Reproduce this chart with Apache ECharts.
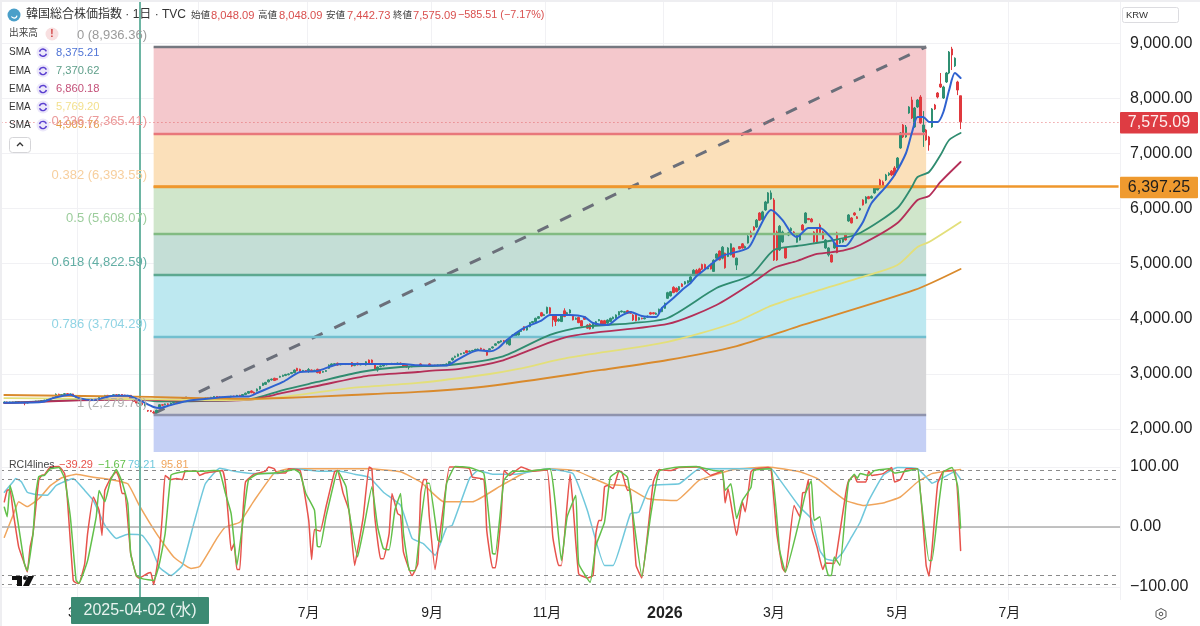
<!DOCTYPE html>
<html><head><meta charset="utf-8">
<style>html,body{margin:0;padding:0;background:#fff}#c{width:1200px;height:626px}</style>
<script src="https://cdn.jsdelivr.net/npm/echarts@6/dist/echarts.min.js"></script>
</head><body><div id="c"></div>
<script>
// ---------- values ----------
const slotCount = 390;
const monthTicks = [[27,'3月'],[69,'5月'],[107,'7月'],[150,'9月'],[190,'11月'],[231,'2026'],[269,'3月'],[312,'5月'],[351,'7月']];
const priceTicks = [2000,3000,4000,5000,6000,7000,8000,9000];
const rciTicks = [100,0,-100];
const rciLevels = [95,80,-80,-95];
const fibStartBar = 53, fibEndBar = 322, crossBar = 48, lastBar = 389;
const fibValues = [8936.36,7365.41,6393.55,5545,4795,3675,2258];
const fibFloor = 1582;
const lastClose = 7575.09, hLine = 6397.25, trendFrom = 2279.78, trendTo = 8936.36;

// open, close, low, high for bars 1..334
const candles = [
[2480,2490,2470,2500],[2490,2475,2465,2498],[2478,2488,2470,2495],[2488,2480,2472,2495],[2482,2495,2475,2502],[2495,2485,2478,2503],[2486,2478,2470,2492],[2478,2470,2430,2484],[2472,2485,2465,2490],[2485,2500,2480,2508],
[2500,2490,2482,2506],[2492,2505,2486,2512],[2505,2498,2490,2512],[2500,2515,2494,2520],[2515,2525,2508,2532],[2525,2540,2518,2548],[2540,2555,2532,2562],[2555,2575,2548,2582],[2575,2630,2565,2645],[2630,2610,2600,2640],
[2610,2625,2600,2635],[2625,2640,2615,2650],[2640,2630,2620,2648],[2630,2635,2618,2642],[2635,2605,2595,2640],[2605,2570,2560,2612],[2570,2525,2515,2575],[2525,2540,2515,2550],[2540,2530,2520,2548],[2530,2520,2510,2540],
[2520,2515,2505,2530],[2515,2535,2508,2545],[2535,2555,2528,2562],[2555,2575,2548,2582],[2575,2590,2568,2598],[2590,2610,2580,2618],[2610,2595,2588,2618],[2595,2605,2588,2612],[2605,2620,2596,2628],[2620,2610,2600,2630],
[2610,2625,2600,2632],[2625,2615,2605,2632],[2615,2600,2590,2622],[2600,2610,2590,2618],[2610,2560,2550,2615],[2550,2500,2490,2558],[2500,2470,2460,2510],[2460,2490,2450,2500],[2470,2440,2430,2480],[2425,2450,2410,2460],
[2335,2325,2310,2345],[2330,2320,2305,2340],[2300,2293,2280,2330],[2300,2340,2285,2350],[2400,2440,2390,2450],[2440,2432,2420,2450],[2440,2455,2430,2462],[2455,2445,2435,2465],[2450,2470,2440,2478],[2470,2482,2462,2490],
[2482,2476,2468,2490],[2478,2492,2470,2500],[2492,2505,2485,2512],[2505,2498,2490,2512],[2500,2515,2492,2522],[2515,2525,2508,2532],[2525,2518,2510,2532],[2520,2535,2512,2542],[2535,2528,2518,2542],[2530,2550,2522,2558],
[2550,2560,2540,2568],[2560,2555,2545,2568],[2558,2575,2550,2582],[2575,2590,2568,2598],[2590,2580,2570,2598],[2580,2565,2555,2590],[2565,2575,2555,2582],[2575,2560,2550,2585],[2560,2580,2552,2590],[2580,2595,2570,2602],
[2595,2590,2580,2605],[2590,2610,2582,2618],[2610,2600,2590,2620],[2600,2625,2592,2632],[2625,2650,2615,2660],[2650,2680,2640,2690],[2690,2660,2650,2700],[2665,2650,2640,2680],[2690,2725,2680,2735],[2725,2770,2715,2780],
[2790,2830,2780,2840],[2810,2845,2800,2855],[2855,2890,2845,2900],[2890,2905,2880,2915],[2920,2880,2870,2930],[2915,2895,2885,2925],[2940,2955,2930,2965],[2955,2975,2945,2985],[2970,2990,2960,3000],[2985,3000,2975,3010],
[3005,3025,2995,3035],[3022,3070,3012,3080],[3100,3058,3048,3110],[3083,3040,3030,3095],[3050,3062,3040,3072],[3060,3050,3040,3070],[3058,3080,3020,3105],[3070,3055,3045,3080],[3055,3065,3045,3075],[3083,3022,3012,3095],
[3071,3010,3000,3082],[3030,3045,3020,3055],[3045,3060,3035,3070],[3100,3160,3090,3170],[3145,3180,3135,3190],[3170,3185,3160,3195],[3192,3160,3150,3205],[3165,3180,3155,3190],[3180,3170,3160,3190],[3170,3185,3160,3195],
[3185,3170,3160,3195],[3204,3143,3130,3215],[3150,3170,3140,3180],[3195,3165,3155,3205],[3165,3180,3155,3190],[3180,3175,3165,3192],[3162,3220,3150,3230],[3250,3195,3185,3262],[3250,3205,3195,3262],[3180,3085,3075,3195],
[3070,3125,3040,3135],[3130,3145,3120,3155],[3145,3165,3135,3175],[3165,3180,3155,3190],[3185,3175,3165,3195],[3175,3190,3165,3200],[3190,3175,3165,3198],[3180,3195,3170,3205],[3195,3185,3175,3205],[3180,3145,3135,3192],
[3160,3125,3115,3170],[3120,3130,3080,3140],[3130,3140,3120,3150],[3140,3135,3125,3150],[3135,3145,3125,3155],[3180,3145,3135,3190],[3150,3140,3130,3160],[3140,3150,3130,3160],[3180,3145,3135,3190],[3150,3155,3140,3165],
[3155,3150,3140,3165],[3150,3160,3140,3170],[3160,3155,3145,3170],[3155,3170,3145,3180],[3170,3180,3160,3190],[3180,3222,3170,3232],[3252,3284,3242,3295],[3300,3320,3290,3330],[3320,3358,3310,3368],[3355,3370,3345,3380],
[3370,3385,3360,3395],[3420,3385,3375,3430],[3405,3415,3395,3425],[3415,3425,3405,3435],[3430,3445,3420,3455],[3440,3450,3430,3460],[3464,3445,3435,3475],[3445,3430,3420,3455],[3412,3340,3330,3425],[3440,3455,3430,3465],
[3470,3490,3460,3500],[3520,3545,3510,3555],[3560,3585,3550,3595],[3580,3600,3570,3610],[3600,3590,3575,3615],[3545,3615,3535,3625],[3525,3645,3515,3655],[3665,3705,3655,3715],[3675,3735,3665,3745],[3705,3765,3695,3775],
[3770,3790,3760,3800],[3855,3795,3785,3865],[3795,3855,3785,3865],[3855,3930,3845,3940],[3930,3950,3920,3960],[3945,4008,3935,4020],[4008,4038,3995,4050],[4110,4050,4040,4125],[4060,4075,4050,4090],[4100,4208,4090,4220],
[4200,4100,4085,4215],[4069,3978,3857,4085],[4069,3950,3870,4085],[3960,3990,3950,4010],[3950,4065,3940,4080],[4145,4040,4030,4190],[4090,4110,4080,4125],[4105,4160,4095,4175],[4050,3980,3970,4065],[3990,4010,3980,4025],
[4025,3930,3920,4040],[3965,3870,3860,3975],[4038,3990,3980,4050],[3885,3830,3820,3900],[3900,3815,3805,3915],[3830,3915,3820,3930],[3890,3945,3880,3960],[3965,3985,3955,3995],[3965,3905,3895,3980],[3965,3890,3880,3980],
[3920,3978,3910,3990],[3950,4008,3940,4020],[4000,4030,3990,4040],[4010,4069,4000,4080],[4070,4129,4060,4140],[4125,4140,4115,4150],[4115,4130,4105,4140],[4145,4100,4090,4160],[4129,4100,4090,4140],[4069,3978,3960,4085],
[4080,3965,3955,4095],[3980,4020,3970,4035],[4010,4000,3990,4020],[4000,4015,3990,4025],[4030,4045,4020,4060],[4110,4085,4075,4125],[4110,4090,4080,4120],[4080,4100,4070,4115],[4112,4172,4100,4185],[4130,4190,4120,4205],
[4190,4280,4180,4295],[4372,4474,4360,4490],[4415,4492,4405,4505],[4572,4475,4465,4590],[4553,4492,4480,4570],[4523,4583,4510,4595],[4630,4585,4575,4645],[4632,4672,4620,4685],[4650,4690,4640,4700],[4668,4760,4640,4780],
[4795,4880,4780,4900],[4880,4800,4780,4905],[4905,4830,4815,4925],[4985,4900,4885,5000],[4985,4905,4890,5000],[4905,4925,4900,4940],[4985,4905,4895,5000],[4860,5060,4850,5080],[5100,5175,5090,5190],[5230,5070,5060,5240],
[5100,5300,5080,5320],[5190,4925,4910,5200],[5130,5285,5120,5300],[5160,5360,5150,5370],[5285,5120,5110,5295],[4975,5100,4885,5110],[5310,5270,5260,5320],[5360,5285,5275,5375],[5285,5310,5275,5330],[5375,5500,5365,5520],
[5560,5485,5475,5600],[5665,5610,5600,5680],[5665,5790,5650,5810],[5920,5790,5780,5935],[5800,5940,5785,5960],[5975,6120,5960,6140],[6100,6285,6090,6300],[6175,6285,6160,6330],[6156,5067,5050,6190],[5575,5067,5050,5600],
[5250,5680,5230,5700],[5395,5575,5380,5600],[5285,5103,5090,5300],[5520,5560,5500,5580],[5600,5640,5580,5660],[5575,5520,5510,5590],[5390,5520,5380,5540],[5430,5520,5420,5535],[5700,5610,5600,5720],[5740,5920,5730,5935],
[5820,5800,5790,5830],[5810,5760,5750,5830],[5575,5394,5380,5590],[5650,5394,5385,5665],[5700,5560,5550,5730],[5575,5450,5440,5590],[5285,5430,5270,5445],[5160,5285,5130,5300],[5158,5031,5020,5170],[5285,5375,5270,5390],
[5558,5200,5190,5580],[5375,5430,5360,5440],[5394,5450,5380,5465],[5540,5430,5420,5560],[5775,5884,5760,5900],[5830,5740,5730,5845],[5920,5884,5870,5935],[5850,5820,5810,5865],[5975,6000,5960,6015],[6156,6065,6055,6170],
[6100,6210,6090,6225],[6215,6180,6170,6230],[6190,6220,6180,6240],[6283,6374,6270,6390],[6338,6392,6330,6410],[6519,6374,6360,6540],[6483,6392,6380,6510],[6520,6610,6500,6630],[6610,6640,6590,6660],[6680,6610,6590,6700],
[6737,6610,6600,6770],[6737,6918,6720,6935],[7100,7372,7085,7390],[7517,7300,7280,7535],[7300,7481,7285,7517],[7735,7844,7720,7860],[7971,7644,7625,8030],[7481,7826,7465,7845],[7844,7971,7830,7990],[8025,7554,7540,8060],
[7390,7517,7120,7770],[7426,7245,7230,7445],[7300,7154,7050,7320],[7481,7808,7465,7825],[7880,7808,7790,7900],[8098,8025,8000,8115],[8260,8207,8190,8461],[8007,8207,7990,8230],[8298,8461,8280,8480],[8461,8842,8440,8860],
[8897,8788,8515,8936],[8590,8730,8570,8745],[8298,8152,8060,8320],[8048.09,7575.09,7442.73,8048.09]
];

const sma1 = [[1,2477],[14,2490],[18,2560],[24,2622],[27,2560],[32,2525],[39,2604],[44,2604],[48,2525],[53,2399],[55,2381],[59,2435],[65,2513],[69,2535],[79,2586],[86,2590],[89,2653],[98,2853],[104,3034],[110,3052],[118,3180],[128,3180],[140,3180],[145,3156],[155,3152],[159,3263],[166,3427],[170,3409],[173,3470],[176,3615],[182,3833],[188,3965],[191,4068],[198,4068],[203,4032],[206,3923],[211,3887],[215,4032],[219,4123],[223,4050],[228,4032],[230,4196],[234,4378],[237,4523],[240,4650],[242,4770],[246,4940],[251,5140],[260,5285],[263,5558],[268,5975],[272,5792],[275,5558],[277,5484],[281,5648],[285,5648],[289,5466],[291,5321],[294,5321],[297,5521],[300,5757],[303,6101],[308,6400],[311,6610],[315,7009],[317,7372],[319,7662],[321,7662],[323,7572],[326,7572],[328,7753],[330,8152],[332,8461],[334,8370]];
const ema2 = [[1,2471],[17,2508],[27,2526],[45,2544],[55,2500],[69,2508],[87,2544],[98,2707],[110,2853],[125,3034],[139,3125],[156,3161],[174,3307],[191,3709],[203,3855],[220,3923],[232,4014],[249,4559],[261,4795],[269,5248],[277,5321],[290,5430],[299,5558],[312,6011],[317,6392],[319,6573],[323,6664],[327,6973],[330,7245],[334,7372]];
const ema3 = [[1,2470],[27,2520],[45,2535],[69,2515],[87,2535],[98,2653],[110,2780],[127,2961],[145,3034],[150,3060],[159,3085],[174,3234],[197,3673],[232,3906],[249,4250],[263,4704],[269,4922],[277,5049],[284,5176],[293,5235],[299,5340],[312,5738],[319,6156],[323,6228],[327,6483],[334,6846]];
const ema4 = [[1,2560],[45,2544],[69,2526],[87,2535],[98,2581],[122,2744],[145,2835],[170,2998],[180,3089],[197,3289],[232,3582],[255,3923],[267,4214],[277,4395],[285,4523],[301,4778],[312,4977],[319,5302],[323,5393],[334,5757]];
const sma5 = [[1,2617],[52,2581],[66,2562],[87,2548],[98,2562],[122,2617],[145,2672],[170,2780],[209,3071],[232,3252],[255,3491],[277,3855],[318,4523],[334,4903]];

const rciRed = [[1,42],[2,61],[3,62],[4,28],[6,-33],[8,-61],[9,-75],[10,-33],[11,-11],[13,78],[14,86],[15,87],[17,100],[20,101],[22,89],[23,44],[25,-89],[26,-93],[27,-94],[29,-61],[30,-11],[32,50],[34,28],[35,-14],[36,61],[38,81],[40,92],[41,81],[42,56],[43,56],[45,-44],[47,-82],[48,-85],[51,-77],[52,-76],[53,-96],[55,-39],[56,17],[57,86],[59,79],[61,81],[63,79],[64,93],[68,93],[69,86],[71,90],[74,92],[77,94],[78,72],[79,17],[80,-39],[81,-28],[82,-71],[83,-71],[84,17],[85,75],[88,88],[92,93],[93,100],[95,97],[96,90],[99,90],[100,97],[104,94],[107,11],[108,-54],[109,-4],[111,-7],[113,33],[116,92],[117,94],[119,56],[121,28],[123,-64],[124,-39],[126,17],[128,100],[129,97],[130,17],[132,-53],[133,-53],[135,-11],[136,56],[138,22],[139,19],[140,-42],[143,-81],[145,-61],[146,56],[147,79],[148,79],[149,17],[151,-71],[153,0],[156,100],[158,100],[163,97],[164,83],[168,79],[169,-6],[171,-68],[172,-68],[174,17],[175,94],[177,86],[181,100],[185,93],[190,95],[192,-17],[194,-64],[195,-64],[198,88],[199,39],[201,-78],[204,-85],[206,-81],[207,-11],[208,11],[209,11],[210,67],[211,69],[213,64],[215,93],[216,92],[218,61],[219,62],[221,-64],[223,-85],[225,-11],[227,75],[229,96],[233,94],[236,99],[243,100],[247,86],[251,93],[252,40],[253,64],[256,-14],[258,42],[259,25],[261,92],[262,96],[267,99],[268,97],[270,-11],[272,-69],[273,-75],[276,36],[278,17],[279,57],[280,58],[281,79],[282,0],[284,-33],[286,-71],[287,-60],[290,-61],[291,-39],[294,56],[295,77],[297,86],[298,75],[301,75],[302,93],[303,86],[307,89],[310,99],[311,75],[313,79],[315,97],[319,97],[322,-64],[323,-82],[324,-39],[326,72],[328,93],[332,94],[334,-39.29]];
const rciGreen = [[1,33],[2,17],[3,69],[5,31],[8,-61],[9,-73],[11,-11],[12,56],[13,84],[15,86],[17,97],[20,99],[22,81],[24,17],[26,-89],[27,-94],[30,-56],[33,17],[34,61],[36,42],[38,78],[40,96],[42,75],[44,39],[45,-44],[47,-81],[49,-86],[53,-89],[55,-61],[57,-11],[59,86],[61,90],[65,93],[69,93],[74,94],[76,93],[78,56],[80,22],[82,-64],[84,6],[86,78],[89,88],[95,90],[99,93],[102,96],[104,89],[106,56],[109,28],[110,-32],[111,-33],[113,17],[116,78],[117,94],[120,67],[121,28],[124,-50],[126,-6],[129,67],[131,0],[133,-36],[135,-38],[137,28],[139,56],[140,-11],[142,-72],[144,-73],[146,6],[148,73],[149,73],[152,-22],[153,-25],[155,72],[158,101],[163,99],[168,89],[171,-44],[172,-45],[175,78],[178,93],[183,93],[191,97],[195,-56],[197,17],[200,53],[201,-61],[205,-92],[207,-31],[210,8],[212,83],[215,93],[218,83],[220,17],[223,-82],[226,17],[229,93],[236,100],[242,101],[248,94],[251,92],[252,61],[254,72],[256,14],[258,44],[261,66],[262,94],[268,97],[271,-39],[273,-75],[278,14],[280,56],[282,77],[283,11],[285,17],[287,-64],[288,-81],[289,-81],[290,-50],[292,-64],[294,33],[295,75],[297,88],[298,81],[299,89],[302,86],[304,94],[309,97],[311,90],[315,93],[319,97],[320,56],[323,-56],[324,-56],[326,22],[328,92],[331,99],[333,67],[334,-1.67]];
const rciBlue = [[1,58],[4,75],[5,81],[7,75],[9,58],[12,54],[16,53],[19,69],[25,81],[29,61],[32,44],[36,3],[40,-19],[44,-12],[49,-14],[52,-33],[55,-67],[59,-81],[63,-64],[67,6],[71,72],[76,98],[81,93],[88,89],[96,89],[102,97],[111,93],[118,93],[123,88],[128,83],[133,58],[139,36],[143,-19],[147,-28],[151,-47],[155,-1],[157,3],[163,81],[166,94],[171,88],[179,88],[190,97],[199,89],[204,28],[210,-64],[213,-64],[219,22],[222,25],[226,69],[236,72],[243,97],[255,97],[268,97],[271,79],[278,33],[282,14],[285,-39],[287,-53],[290,-56],[293,-42],[296,-17],[299,8],[302,44],[307,86],[312,99],[319,97],[323,78],[324,73],[332,92],[334,79.21]];
const rciOrange = [[1,-17],[4,19],[6,42],[9,34],[13,47],[17,69],[21,82],[26,88],[32,83],[38,79],[44,72],[48,36],[54,-11],[60,-50],[66,-69],[69,-66],[75,-19],[78,0],[83,8],[88,44],[95,90],[100,97],[116,97],[128,97],[139,92],[146,75],[154,42],[164,42],[174,69],[183,92],[191,97],[200,94],[211,71],[217,69],[225,47],[235,44],[243,78],[255,96],[267,100],[278,92],[284,81],[290,58],[294,44],[300,36],[307,40],[313,50],[319,75],[324,89],[334,95.81]];

const titleText = '韓国総合株価指数 · 1日 · TVC';
const ohlcTexts = [['始値',191,'8,048.09',211],['高値',258,'8,048.09',279],['安値',326,'7,442.73',347],['終値',393,'7,575.09',413]];
const changeText = '−585.51 (−7.17%)';
const maNames = ['SMA','EMA','EMA','EMA','SMA'];
const maValues = ['8,375.21','7,370.62','6,860.18','5,769.20','4,909.76'];
const fibLabels = ['0 (8,936.36)','0.236 (7,365.41)','0.382 (6,393.55)','0.5 (5,608.07)','0.618 (4,822.59)','0.786 (3,704.29)','1 (2,279.78)'];
const rciValues = ['−39.29','−1.67','79.21','95.81'];

// ---------- styles ----------
const FONT = '"Liberation Sans","Noto Sans CJK JP",sans-serif';
const UP = '#2f8f72', DOWN = '#e0393e';
const maColors = ['#2f62d0','#2f8c70','#b42f58','#e3df7a','#d98a2c'];
const maLegend = ['#4f74d6','#5f9f8a','#c4527a','#f3e08e','#e39c45'];
const fibLine = ['#757880','#e8777b','#ea9a3b','#82bb82','#5da890','#72bfcf','#8f93ad'];
const fibZone = ['#f4c8cc','#fbe0ba','#d0e6cb','#c4ded6','#bde8f0','#d6d6d8','#c5d0f5'];
const fibText = ['#9b9b9b','#eb9a9a','#f7cf9e','#9ccd9c','#62aea4','#90d4e4','#b0b0b0'];
const rciColors = ['#e7534c','#62c04a','#70c8dc','#f0a55c'];
const GRID = '#f1f1f4';

const isMonth = i => monthTicks.some(t => t[0] === i);
const monthLabel = i => (monthTicks.find(t => t[0] === +i) || [0,''])[1];
const categories = Array.from({length: slotCount}, (_, i) => String(i));

function xAxis(gridIndex, labels) {
  return {
    type: 'category', gridIndex, data: categories, boundaryGap: true,
    axisLine: {show: false},
    axisTick: {show: false, alignWithLabel: true, interval: i => isMonth(i)},
    splitLine: {show: true, interval: i => isMonth(i), lineStyle: {color: GRID, width: 1}},
    axisLabel: labels ? {
      show: true, interval: i => isMonth(i), margin: 6, hideOverlap: false,
      formatter: v => monthLabel(v) === '2026' ? '{b|2026}' : '{n|' + monthLabel(v) + '}',
      rich: {
        n: {fontFamily: FONT, fontSize: 14, color: '#222'},
        b: {fontFamily: FONT, fontSize: 16, fontWeight: 'bold', color: '#222'}
      }
    } : {show: false}
  };
}
function yAxis(gridIndex, min, max, ticks) {
  return {
    type: 'value', gridIndex, position: 'right', min, max,
    axisLine: {show: false},
    axisTick: {show: false, customValues: ticks},
    splitLine: {show: true, lineStyle: {color: GRID, width: 1}},
    axisLabel: {
      show: true, customValues: ticks, margin: 10, align: 'left', padding: [2, 0, 0, 0],
      fontFamily: FONT, fontSize: 16, color: '#222', showMinLabel: true, showMaxLabel: true,
      formatter: v => (v < 0 ? '−' : '') + Math.abs(v).toLocaleString('en-US', {minimumFractionDigits: 2, maximumFractionDigits: 2})
    }
  };
}
const line = (name, data, color, width, xi, smooth, z) => ({
  name, type: 'line', data, xAxisIndex: xi, yAxisIndex: xi, showSymbol: false, symbol: 'none', silent: true,
  smooth, z, lineStyle: {color, width, cap: 'round', join: 'round'}
});
const crossLine = {symbol: 'none', silent: true, label: {show: false},
  data: [{xAxis: crossBar, lineStyle: {color: '#6db5a3', width: 2, type: 'solid'}}]};

const zoneEdges = fibValues.concat([fibFloor]);
const zones = fibZone.map((c, k) => [
  {xAxis: fibStartBar, yAxis: zoneEdges[k], itemStyle: {color: c, opacity: 1}},
  {xAxis: fibEndBar, yAxis: zoneEdges[k + 1]}
]);
const fibLines = fibValues.map((v, k) => [
  {coord: [fibStartBar, v], lineStyle: {color: fibLine[k], width: 2.4, type: 'solid'}},
  {coord: [fibEndBar, v]}
]);

const series = [
  {name: 'zones', type: 'line', data: [], xAxisIndex: 0, yAxisIndex: 0, z: 1, silent: true,
   markArea: {silent: true, data: zones}},
  {name: 'fib', type: 'line', data: [], xAxisIndex: 0, yAxisIndex: 0, z: 2, silent: true,
   markLine: {symbol: 'none', silent: true, label: {show: false}, data: fibLines.concat([
     [{coord: [fibStartBar, hLine], lineStyle: {color: '#ef972c', width: 2.5, type: 'solid'}}, {coord: [lastBar, hLine]}],
     [{coord: [0, lastClose], lineStyle: {color: '#e2555a', width: 0.8, type: [1, 3]}}, {coord: [lastBar, lastClose]}]
   ])}},
  {name: 'trend', type: 'line', data: [[fibStartBar, trendFrom], [fibEndBar, trendTo]], xAxisIndex: 0, yAxisIndex: 0,
   z: 3, silent: true, showSymbol: false, symbol: 'none',
   lineStyle: {color: '#6b6f7a', width: 3, type: [12, 13]}},
  {name: 'index', type: 'candlestick', xAxisIndex: 0, yAxisIndex: 0, z: 4, silent: true, barWidth: 2,
   data: [['-','-','-','-']].concat(candles),
   itemStyle: {color: UP, color0: DOWN, borderColor: UP, borderColor0: DOWN, borderWidth: 1}},
  line('SMA', sma1, maColors[0], 2, 0, 0.25, 6),
  line('EMA2', ema2, maColors[1], 1.8, 0, 0.25, 5),
  line('EMA3', ema3, maColors[2], 1.8, 0, 0.25, 5),
  line('EMA4', ema4, maColors[3], 1.8, 0, 0.25, 5),
  line('SMA5', sma5, maColors[4], 1.8, 0, 0.25, 5),
  {name: 'cross', type: 'line', data: [], xAxisIndex: 0, yAxisIndex: 0, z: 9, silent: true, markLine: crossLine},
  {name: 'levels', type: 'line', data: [], xAxisIndex: 1, yAxisIndex: 1, z: 2, silent: true,
   markLine: {symbol: 'none', silent: true, label: {show: false}, data:
     rciLevels.map(v => ({yAxis: v, lineStyle: {color: '#8a8a8a', width: 1, type: [4, 4]}}))
       .concat([{yAxis: 0, lineStyle: {color: '#aeaeae', width: 1.5, type: 'solid'}}])}},
  line('RCI4', rciOrange, rciColors[3], 1.5, 1, 0.12, 4),
  line('RCI3', rciBlue, rciColors[2], 1.5, 1, 0.12, 4),
  line('RCI1', rciRed, rciColors[0], 1.5, 1, 0.12, 5),
  line('RCI2', rciGreen, rciColors[1], 1.5, 1, 0.12, 6),
  {name: 'cross2', type: 'line', data: [], xAxisIndex: 1, yAxisIndex: 1, z: 9, silent: true, markLine: crossLine}
];

// ---------- text and furniture ----------
const g = [];
const txt = (x, y, text, size, fill, extra) => g.push({type: 'text', z: 100, silent: true, x, y,
  style: Object.assign({text, fontFamily: FONT, fontSize: size, fill, textVerticalAlign: 'middle', textAlign: 'left'}, extra || {})});
g.push({type: 'rect', z: 90, shape: {x: 0, y: 0, width: 2, height: 626}, style: {fill: '#eeeef1'}, silent: true});
g.push({type: 'rect', z: 90, shape: {x: 0, y: 0, width: 1200, height: 2}, style: {fill: '#eeeef1'}, silent: true});
g.push({type: 'circle', z: 100, silent: true, shape: {cx: 14, cy: 15, r: 6.5}, style: {fill: '#4a9fc9'}});
g.push({type: 'arc', z: 101, silent: true, shape: {cx: 14, cy: 15, r: 3, startAngle: 0.2, endAngle: 2.6}, style: {stroke: '#fff', lineWidth: 1.2, fill: null}});
txt(26, 15, titleText, 12, '#333');
ohlcTexts.forEach(t => { txt(t[1], 15, t[0], 9.5, '#444'); txt(t[3], 15.5, t[2], 11.2, '#d9504f'); });
txt(458, 15.5, changeText, 10.8, '#d9504f');
txt(9, 33, '出来高', 9.7, '#444');
g.push({type: 'circle', z: 100, silent: true, shape: {cx: 52, cy: 34, r: 6.5}, style: {fill: '#f8dfe0'}});
txt(52, 34, '!', 10, '#d03a3a', {textAlign: 'center', fontWeight: 'bold'});
const rowY = [52.7, 71, 89, 107, 125];
maNames.forEach((n, k) => {
  txt(9, rowY[k], n, 10, '#333');
  g.push({type: 'circle', z: 99, silent: true, shape: {cx: 43, cy: rowY[k], r: 6.5}, style: {fill: '#ece8fa'}});
  g.push({type: 'arc', z: 100, silent: true, shape: {cx: 43, cy: rowY[k], r: 3.6, startAngle: 0.3, endAngle: 2.8}, style: {stroke: '#5a3fd0', lineWidth: 1.5, fill: null}});
  g.push({type: 'arc', z: 100, silent: true, shape: {cx: 43, cy: rowY[k], r: 3.6, startAngle: 3.4, endAngle: 5.9}, style: {stroke: '#5a3fd0', lineWidth: 1.5, fill: null}});
  txt(56, rowY[k], maValues[k], 11.2, maLegend[k]);
});
g.push({type: 'rect', z: 100, silent: true, shape: {x: 9.5, y: 137.5, width: 21, height: 15, r: 3}, style: {fill: '#fff', stroke: '#d5d5d8', lineWidth: 1}});
g.push({type: 'polyline', z: 101, silent: true, shape: {points: [[17, 146], [20, 143], [23, 146]]}, style: {stroke: '#333', lineWidth: 1.3, fill: null}});
const fibLabelY = [35, 121, 175, 218, 262, 324, 403];
fibLabels.forEach((t, k) => txt(147, fibLabelY[k], t, 13, fibText[k], {textAlign: 'right'}));
txt(9, 465, 'RCI4lines', 10.5, '#444');
[59, 98, 128, 161].forEach((x, k) => txt(x, 465, rciValues[k], 11, rciColors[k]));
// TradingView mark
g.push({type: 'polygon', z: 100, silent: true, shape: {points: [[12, 576], [22, 576], [22, 586], [17, 586], [17, 580], [12, 580]]}, style: {fill: '#111'}});
g.push({type: 'circle', z: 100, silent: true, shape: {cx: 25, cy: 578, r: 2}, style: {fill: '#111'}});
g.push({type: 'polygon', z: 100, silent: true, shape: {points: [[28, 576], [34, 576], [29, 586], [23, 586]]}, style: {fill: '#111'}});
// date tag on the crosshair
g.push({type: 'rect', z: 100, silent: true, shape: {x: 71, y: 597, width: 138, height: 27, r: 1}, style: {fill: '#3c8a73'}});
txt(140, 611, '2025-04-02 (水)', 16, '#e8f3ef', {textAlign: 'center'});
// price tags
g.push({type: 'rect', z: 100, silent: true, shape: {x: 1120, y: 112, width: 78, height: 21.5, r: 1}, style: {fill: '#de3c43'}});
txt(1159, 122.8, '7,575.09', 16, '#fdeeee', {textAlign: 'center'});
g.push({type: 'rect', z: 100, silent: true, shape: {x: 1120, y: 176.8, width: 78, height: 21.5, r: 1}, style: {fill: '#ef9a2f'}});
txt(1159, 187.5, '6,397.25', 16, '#1e1e1e', {textAlign: 'center'});
// currency box and settings
g.push({type: 'rect', z: 100, silent: true, shape: {x: 1122.5, y: 7.5, width: 56, height: 15, r: 2}, style: {fill: '#fff', stroke: '#dcdce0', lineWidth: 1}});
txt(1126, 15, 'KRW', 9.5, '#333');
g.push({type: 'polygon', z: 100, silent: true, shape: {points: [[1161, 608.5], [1166, 611.2], [1166, 616.8], [1161, 619.5], [1156, 616.8], [1156, 611.2]]}, style: {fill: '#fff', stroke: '#555', lineWidth: 1}});
g.push({type: 'circle', z: 101, silent: true, shape: {cx: 1161, cy: 614, r: 1.8}, style: {fill: '#fff', stroke: '#555', lineWidth: 1}});

const chart = echarts.init(document.getElementById('c'), null, {renderer: 'canvas', width: 1200, height: 626});
chart.setOption({
  animation: false, backgroundColor: '#fff', tooltip: {show: false}, legend: {show: false},
  grid: [
    {left: 0, top: 0, width: 1120, height: 452},
    {left: 0, top: 452, width: 1120, height: 148}
  ],
  xAxis: [xAxis(0, false), xAxis(1, true)],
  yAxis: [yAxis(0, 1582, 9786, priceTicks), yAxis(1, -121.67, 125, rciTicks)],
  series, graphic: {elements: g}
});
</script></body></html>
